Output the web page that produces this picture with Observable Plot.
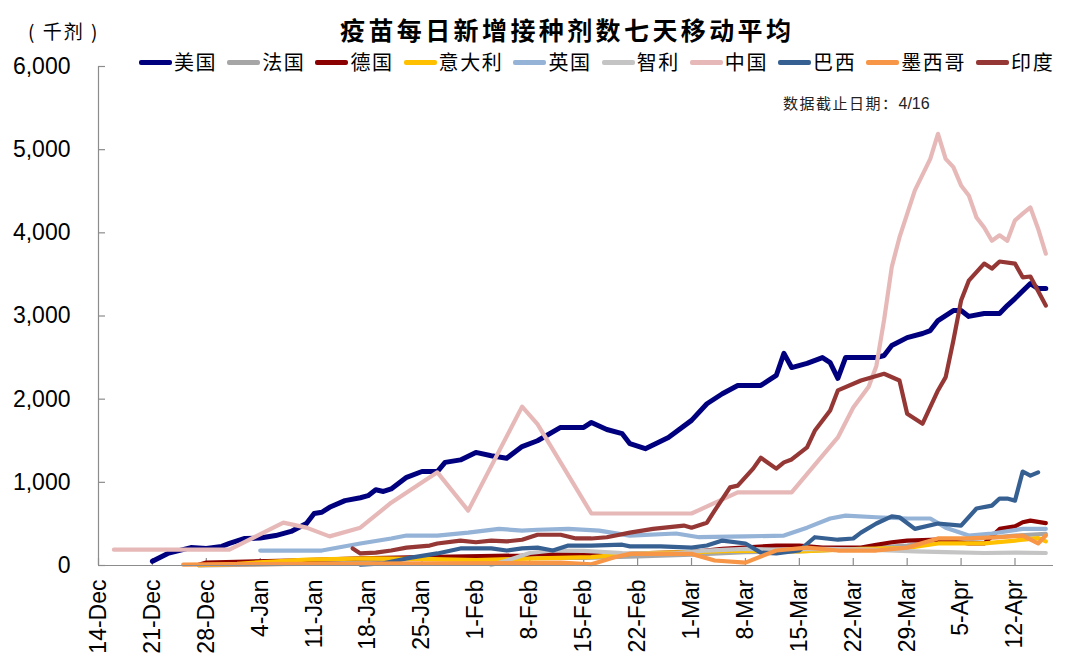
<!DOCTYPE html>
<html><head><meta charset="utf-8">
<script src="https://cdn.jsdelivr.net/npm/d3@7"></script>
<script src="https://cdn.jsdelivr.net/npm/@observablehq/plot@0.6"></script>
<style>
body{margin:0;background:#fff;}
#wrap{position:relative;width:1080px;height:670px;overflow:hidden;background:#fff;font-family:"Noto Sans CJK SC","Noto Sans",sans-serif;color:#000;}
#chart{position:absolute;left:0;top:0;}
#title{position:absolute;left:340px;top:12px;font-size:25px;line-height:34px;letter-spacing:3.4px;font-weight:600;white-space:nowrap;}
#unit{position:absolute;left:28px;top:16px;font-size:19px;line-height:30px;letter-spacing:2px;white-space:nowrap;}
#legend{position:absolute;left:139px;top:49px;display:flex;align-items:center;white-space:nowrap;}
.item{display:flex;align-items:center;margin-right:10px;}
.sw{width:33px;height:5px;border-radius:2px;margin-right:2px;}
.lab{font-size:20px;line-height:26px;letter-spacing:1.6px;}
#note{position:absolute;left:783px;top:93px;font-size:15px;line-height:20px;letter-spacing:1.5px;color:#222;white-space:nowrap;}
#note span{font-family:"Liberation Sans",Arial,sans-serif;letter-spacing:0;font-size:16px;}
</style></head><body>
<div id="wrap">
  <div id="chart"></div>
  <div id="title">疫苗每日新增接种剂数七天移动平均</div>
  <div id="unit">( 千剂 )</div>
  <div id="legend"></div>
  <div id="note">数据截止日期：<span>4/16</span></div>
</div>
<script>
// ---- data (thousand doses, 7-day moving average) ----
const countries = ["美国","法国","德国","意大利","英国","智利","中国","巴西","墨西哥","印度"];
const colors = ["#00007F","#A6A6A6","#8B0000","#FFC000","#95B3D7","#C4C4C4","#E6B9B8","#376092","#F79646","#953735"];

const usData = [["2020-12-21",50],["2020-12-23",145],["2020-12-26",215],["2020-12-28",205],["2020-12-30",230],["2020-12-31",265],["2021-01-02",325],["2021-01-04",330],["2021-01-06",360],["2021-01-08",410],["2021-01-10",505],["2021-01-11",625],["2021-01-12",640],["2021-01-13",700],["2021-01-15",780],["2021-01-17",815],["2021-01-18",840],["2021-01-19",910],["2021-01-20",890],["2021-01-21",920],["2021-01-23",1060],["2021-01-25",1130],["2021-01-27",1130],["2021-01-28",1240],["2021-01-30",1270],["2021-02-01",1360],["2021-02-03",1320],["2021-02-05",1290],["2021-02-07",1430],["2021-02-09",1500],["2021-02-12",1660],["2021-02-15",1660],["2021-02-16",1720],["2021-02-18",1635],["2021-02-20",1585],["2021-02-21",1465],["2021-02-23",1405],["2021-02-26",1540],["2021-03-01",1745],["2021-03-03",1945],["2021-03-05",2065],["2021-03-07",2165],["2021-03-10",2165],["2021-03-11",2225],["2021-03-12",2285],["2021-03-13",2550],["2021-03-14",2380],["2021-03-16",2430],["2021-03-18",2500],["2021-03-19",2440],["2021-03-20",2250],["2021-03-21",2500],["2021-03-25",2500],["2021-03-26",2525],["2021-03-27",2645],["2021-03-29",2740],["2021-03-31",2790],["2021-04-01",2825],["2021-04-02",2945],["2021-04-04",3065],["2021-04-05",3065],["2021-04-06",2995],["2021-04-08",3030],["2021-04-10",3030],["2021-04-11",3125],["2021-04-12",3210],["2021-04-14",3390],["2021-04-15",3330],["2021-04-16",3330]];

const franceData = [["2020-12-27",2],["2021-01-03",10],["2021-01-10",25],["2021-01-17",60],["2021-01-24",80],["2021-02-01",85],["2021-02-08",90],["2021-02-15",90],["2021-02-22",110],["2021-03-01",130],["2021-03-08",160],["2021-03-15",170],["2021-03-22",200],["2021-03-29",240],["2021-04-03",300],["2021-04-08",330],["2021-04-12",360],["2021-04-16",380]];

const germanyData = [["2020-12-27",10],["2020-12-28",35],["2021-01-08",60],["2021-01-17",85],["2021-01-25",100],["2021-02-07",120],["2021-02-09",140],["2021-02-14",140],["2021-02-18",120],["2021-02-22",145],["2021-03-01",160],["2021-03-05",200],["2021-03-12",240],["2021-03-15",240],["2021-03-18",215],["2021-03-23",215],["2021-03-25",250],["2021-03-27",280],["2021-03-29",300],["2021-04-02",310],["2021-04-06",265],["2021-04-08",265],["2021-04-10",440],["2021-04-12",470],["2021-04-13",520],["2021-04-14",540],["2021-04-16",510]];

const italyData = [["2020-12-27",5],["2021-01-01",20],["2021-01-05",45],["2021-01-10",70],["2021-01-18",85],["2021-01-25",80],["2021-02-01",65],["2021-02-09",85],["2021-02-16",100],["2021-02-22",145],["2021-03-01",160],["2021-03-07",180],["2021-03-15",170],["2021-03-23",200],["2021-03-29",210],["2021-04-02",265],["2021-04-08",265],["2021-04-12",300],["2021-04-15",330],["2021-04-16",290]];

const ukData = [["2021-01-04",180],["2021-01-12",180],["2021-01-17",265],["2021-01-21",325],["2021-01-23",360],["2021-01-27",360],["2021-01-31",395],["2021-02-04",440],["2021-02-07",420],["2021-02-09",430],["2021-02-13",440],["2021-02-17",420],["2021-02-21",360],["2021-02-27",385],["2021-03-02",340],["2021-03-08",350],["2021-03-13",360],["2021-03-16",455],["2021-03-19",565],["2021-03-21",600],["2021-03-25",580],["2021-03-29",565],["2021-04-01",565],["2021-04-03",455],["2021-04-06",360],["2021-04-09",385],["2021-04-13",440],["2021-04-16",440]];

const chileData = [["2021-02-03",5],["2021-02-05",60],["2021-02-08",150],["2021-02-11",180],["2021-02-15",175],["2021-02-20",150],["2021-02-26",140],["2021-03-03",180],["2021-03-08",200],["2021-03-12",190],["2021-03-18",200],["2021-03-24",190],["2021-03-30",170],["2021-04-03",160],["2021-04-08",150],["2021-04-12",155],["2021-04-16",150]];

const chinaData = [["2020-12-16",190],["2020-12-31",190],["2021-01-07",515],["2021-01-10",455],["2021-01-13",350],["2021-01-17",455],["2021-01-21",755],["2021-01-27",1120],["2021-01-31",660],["2021-02-07",1910],["2021-02-09",1700],["2021-02-16",625],["2021-03-01",625],["2021-03-07",880],["2021-03-14",880],["2021-03-20",1540],["2021-03-22",1900],["2021-03-24",2150],["2021-03-25",2400],["2021-03-26",2950],["2021-03-27",3590],["2021-03-28",3945],["2021-03-30",4510],["2021-03-31",4700],["2021-04-01",4890],["2021-04-02",5190],["2021-04-03",4890],["2021-04-04",4790],["2021-04-05",4570],["2021-04-06",4450],["2021-04-07",4185],["2021-04-08",4065],["2021-04-09",3905],["2021-04-10",3970],["2021-04-11",3905],["2021-04-12",4150],["2021-04-13",4230],["2021-04-14",4305],["2021-04-15",4050],["2021-04-16",3750]];

const brazilData = [["2021-01-17",10],["2021-01-20",25],["2021-01-23",85],["2021-01-27",145],["2021-01-30",205],["2021-02-03",205],["2021-02-05",180],["2021-02-07",205],["2021-02-09",215],["2021-02-11",180],["2021-02-13",240],["2021-02-16",240],["2021-02-20",250],["2021-02-21",230],["2021-02-25",230],["2021-03-01",215],["2021-03-03",240],["2021-03-05",300],["2021-03-08",265],["2021-03-10",155],["2021-03-12",145],["2021-03-15",180],["2021-03-17",340],["2021-03-20",310],["2021-03-22",325],["2021-03-23",395],["2021-03-25",505],["2021-03-27",590],["2021-03-28",580],["2021-03-30",440],["2021-04-02",505],["2021-04-05",480],["2021-04-07",685],["2021-04-09",720],["2021-04-10",805],["2021-04-11",805],["2021-04-12",780],["2021-04-13",1130],["2021-04-14",1080],["2021-04-15",1120]];

const mexicoData = [["2020-12-25",10],["2021-01-10",20],["2021-01-25",25],["2021-02-05",30],["2021-02-12",35],["2021-02-16",15],["2021-02-19",100],["2021-02-21",140],["2021-03-01",140],["2021-03-04",60],["2021-03-08",35],["2021-03-12",180],["2021-03-16",215],["2021-03-20",180],["2021-03-25",180],["2021-03-29",215],["2021-04-02",325],["2021-04-06",325],["2021-04-10",340],["2021-04-13",360],["2021-04-15",265],["2021-04-16",360]];

const indiaData = [["2021-01-16",205],["2021-01-17",145],["2021-01-19",155],["2021-01-21",180],["2021-01-23",215],["2021-01-26",240],["2021-01-27",265],["2021-01-30",300],["2021-02-01",280],["2021-02-03",300],["2021-02-05",290],["2021-02-07",310],["2021-02-09",370],["2021-02-12",370],["2021-02-14",325],["2021-02-16",325],["2021-02-18",340],["2021-02-21",395],["2021-02-24",440],["2021-02-28",480],["2021-03-01",455],["2021-03-03",515],["2021-03-04",660],["2021-03-06",940],["2021-03-07",960],["2021-03-09",1165],["2021-03-10",1295],["2021-03-12",1165],["2021-03-13",1240],["2021-03-14",1275],["2021-03-16",1420],["2021-03-17",1620],["2021-03-19",1865],["2021-03-20",2105],["2021-03-23",2225],["2021-03-26",2305],["2021-03-28",2225],["2021-03-29",1825],["2021-03-31",1705],["2021-04-02",2105],["2021-04-03",2265],["2021-04-04",2705],["2021-04-05",3185],["2021-04-06",3425],["2021-04-08",3630],["2021-04-09",3570],["2021-04-10",3655],["2021-04-12",3630],["2021-04-13",3465],["2021-04-14",3475],["2021-04-16",3125]];

const seriesData = [usData, franceData, germanyData, italyData, ukData, chileData, chinaData, brazilData, mexicoData, indiaData];

const xTickDates = ["2020-12-14","2020-12-21","2020-12-28","2021-01-04","2021-01-11","2021-01-18","2021-01-25","2021-02-01","2021-02-08","2021-02-15","2021-02-22","2021-03-01","2021-03-08","2021-03-15","2021-03-22","2021-03-29","2021-04-05","2021-04-12"];
const yTicks = [0,1000,2000,3000,4000,5000,6000];
const xDomain = ["2020-12-14","2021-04-17"];

// ---- build ----
const parse = s => new Date(s + "T00:00:00Z");
const xt = xTickDates.map(parse);

const W = 1080, H = 670, mL = 98, mR = 27, mT = 66, mB = 105;
const innerW = W - mL - mR, innerH = H - mT - mB;
const axisColor = "#8C8C8C";

const lineMarks = countries.map((c, i) => {
  const rows = seriesData[i].map(([d, v]) => ({country: c, date: parse(d), value: v}));
  return Plot.lineY(rows, {
    x: "date", y: "value", stroke: "country",
    strokeWidth: i === 0 ? 5 : 4.2,
    strokeLinejoin: "round", strokeLinecap: "round"
  });
});

const chart = Plot.plot({
  width: W, height: H,
  marginLeft: mL, marginRight: mR, marginTop: mT, marginBottom: mB,
  style: {fontFamily: "'Liberation Sans', Arial, sans-serif", fontSize: "23px", color: "#000", background: "#fff"},
  x: {type: "utc", domain: xDomain.map(parse)},
  y: {domain: [0, 6000]},
  color: {domain: countries, range: colors},
  marks: [
    Plot.ruleX([parse(xDomain[0])], {stroke: axisColor, strokeWidth: 1.2}),
    Plot.tickY(yTicks, {y: d => d, stroke: axisColor, strokeWidth: 1.2, insetRight: innerW - 7}),
    Plot.tickX(xt, {x: d => d, stroke: axisColor, strokeWidth: 1.2, insetTop: innerH - 7}),
    ...lineMarks,
    Plot.ruleY([0], {stroke: axisColor, strokeWidth: 1.2}),
    Plot.axisY(yTicks, {label: null, tickSize: 0, tickPadding: 28, tickFormat: d3.format(","), fill: "#000", fontSize: 23}),
    Plot.axisX(xt, {label: null, tickSize: 0, tickPadding: 14, tickRotate: -90, tickFormat: d3.utcFormat("%-d-%b"), fill: "#000", fontSize: 23})
  ]
});
document.getElementById("chart").appendChild(chart);

// legend
const leg = document.getElementById("legend");
countries.forEach((c, i) => {
  const it = document.createElement("div"); it.className = "item";
  const sw = document.createElement("div"); sw.className = "sw"; sw.style.background = colors[i];
  const lb = document.createElement("span"); lb.className = "lab"; lb.textContent = c;
  it.appendChild(sw); it.appendChild(lb); leg.appendChild(it);
});
</script>
</body></html>
